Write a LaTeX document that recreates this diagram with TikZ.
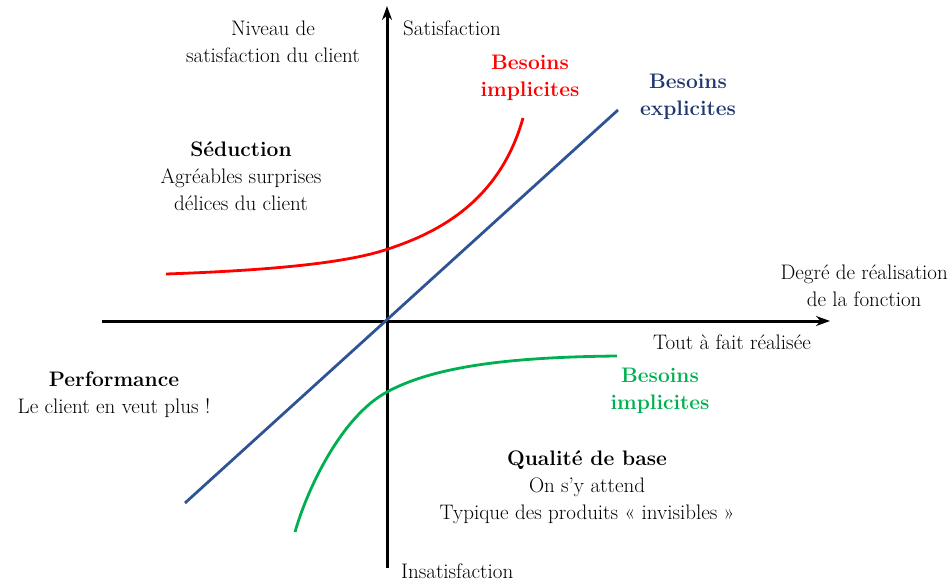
\documentclass[tikz,border=0pt]{standalone}
\usepackage{fontspec}
\setmainfont{Latin Modern Roman}
\usetikzlibrary{arrows.meta}
\definecolor{kred}{RGB}{255,0,0}
\definecolor{kgreen}{RGB}{0,176,80}
\definecolor{kblue}{RGB}{47,84,150}
\definecolor{knavy}{RGB}{31,56,110}
\begin{document}
\begin{tikzpicture}[x=1pt,y=-1pt,
  txt/.style={inner sep=0pt,align=center,font=\fontsize{21}{27}\selectfont},
  hd/.style={txt,font=\fontsize{21}{27}\fontseries{b}\selectfont},
  axis/.style={line width=3pt,-{Stealth[length=14pt,width=10pt]}},
  curve/.style={line width=2.8pt}]
\useasboundingbox (0,0) rectangle (951,581);
% axes
\coordinate (ybot) at (387,568);
\coordinate (ytop) at (387,6);
\coordinate (xleft) at (102,321);
\coordinate (xright) at (830,321);
\coordinate (o) at (387,321);
\draw[axis] (ybot) -- (ytop);
\draw[axis] (xleft) -- (xright);
% blue line
\coordinate (b0) at (185,503);
\coordinate (b1) at (618,110);
\draw[curve,kblue] (b0) -- (b1);
% red curve
\coordinate (r0) at (166,274);
\coordinate (r1) at (388,249);
\coordinate (r2) at (523,118);
\draw[curve,kred] (r0) .. controls (280,270) and (350,262) .. (r1)
  .. controls (440,232) and (500,200) .. (r2);
% green curve
\coordinate (g0) at (295,532);
\coordinate (g1) at (387,392);
\coordinate (g2) at (617,356);
\draw[curve,kgreen] (g0) .. controls (307.5,488) and (342,416) .. (g1)
  .. controls (437,364.5) and (520,357) .. (g2);
% texts
\node[txt] (niveau) at (273,41.5) {Niveau de\\satisfaction du client};
\node[txt,anchor=west] (satis) at (403,28) {Satisfaction};
\node[hd,text=kred] (bir) at (530,78) {Besoins\\implicites};
\node[hd,text=knavy] (bex) at (688,96.5) {Besoins\\explicites};
\node[txt] (sed) at (241,176) {{\fontseries{b}\selectfont S\'eduction}\\Agr\'eables surprises\\d\'elices du client};
\node[txt,anchor=east] (degre) at (948,285.5) {Degr\'e de r\'ealisation\\de la fonction};
\node[txt] (tout) at (732,342) {Tout \`a fait r\'ealis\'ee};
\node[hd,text=kgreen] (big) at (660,391) {Besoins\\implicites};
\node[txt] (perf) at (114,394.5) {{\fontseries{b}\selectfont Performance}\\Le client en veut plus !};
\node[txt] (qual) at (587,487) {{\fontseries{b}\selectfont Qualit\'e de base}\\On s'y attend\\Typique des produits « invisibles »};
\node[txt,anchor=west] (insat) at (401,571) {Insatisfaction};
\end{tikzpicture}
\end{document}
